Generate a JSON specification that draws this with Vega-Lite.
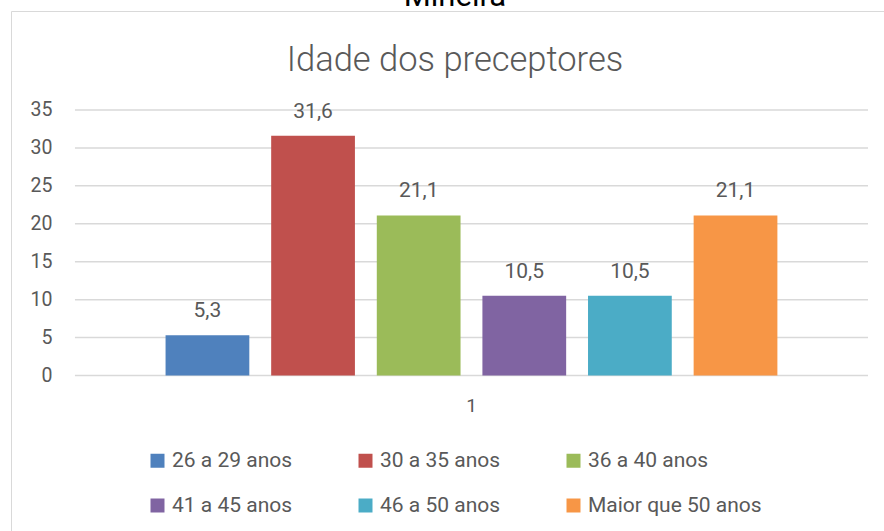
{
  "$schema": "https://vega.github.io/schema/vega-lite/v6.json",
  "width": 883,
  "height": 530,
  "autosize": {"type": "none"},
  "padding": {"left": 11, "top": 11, "right": -10, "bottom": -10},
  "background": "white",
  "title": {
    "text": "Mineira",
    "subtitle": "Idade dos preceptores",
    "anchor": "middle",
    "frame": "group",
    "offset": -67,
    "dx": 2.5,
    "font": "Roboto",
    "fontSize": 31,
    "fontWeight": "normal",
    "color": "#000000",
    "subtitleFont": "Roboto",
    "subtitleFontSize": 34.5,
    "subtitleFontWeight": 300,
    "subtitleColor": "#595959",
    "subtitlePadding": 31
  },
  "datasets": {
    "barras": [
      {"cat": "1", "faixa": "26 a 29 anos", "pct": 5.3},
      {"cat": "1", "faixa": "30 a 35 anos", "pct": 31.6},
      {"cat": "1", "faixa": "36 a 40 anos", "pct": 21.1},
      {"cat": "1", "faixa": "41 a 45 anos", "pct": 10.5},
      {"cat": "1", "faixa": "46 a 50 anos", "pct": 10.5},
      {"cat": "1", "faixa": "Maior que 50 anos", "pct": 21.1}
    ],
    "grade": [
      {"cat": "1", "pct": 0},
      {"cat": "1", "pct": 5},
      {"cat": "1", "pct": 10},
      {"cat": "1", "pct": 15},
      {"cat": "1", "pct": 20},
      {"cat": "1", "pct": 25},
      {"cat": "1", "pct": 30},
      {"cat": "1", "pct": 35}
    ]
  },
  "encoding": {
    "x": {
      "field": "cat",
      "type": "nominal",
      "scale": {"paddingInner": 0, "paddingOuter": 0.0567, "align": 0.711},
      "axis": {
        "orient": "bottom",
        "offset": -165.5,
        "domain": false,
        "ticks": false,
        "labelPadding": 21,
        "labelAngle": 0,
        "labelFont": "Roboto",
        "labelFontSize": 19,
        "labelColor": "#595959",
        "title": null
      }
    },
    "y": {
      "field": "pct",
      "type": "quantitative",
      "stack": null,
      "scale": {"domain": [-21.82, 48.05], "nice": false, "zero": false},
      "axis": {
        "orient": "left",
        "values": [0, 5, 10, 15, 20, 25, 30, 35],
        "offset": -64,
        "domain": false,
        "ticks": false,
        "grid": false,
        "labelPadding": 23,
        "labelFont": "Roboto",
        "labelFontSize": 19.5,
        "labelColor": "#595959",
        "title": null
      }
    }
  },
  "layer": [
    {
      "data": {"name": "grade"},
      "mark": {"type": "rect", "fill": null, "stroke": "#D9D9D9", "strokeWidth": 1.5},
      "encoding": {
        "y2": {"field": "pct"}
      }
    },
    {
      "data": {"name": "barras"},
      "mark": {"type": "bar"},
      "encoding": {
        "xOffset": {
          "field": "faixa",
          "type": "nominal",
          "scale": {"paddingInner": 0.207, "paddingOuter": 0.858}
        },
        "color": {
          "field": "faixa",
          "type": "nominal",
          "scale": {
            "domain": ["26 a 29 anos", "30 a 35 anos", "36 a 40 anos", "41 a 45 anos", "46 a 50 anos", "Maior que 50 anos"],
            "range": ["#4F81BD", "#C0504D", "#9BBB59", "#8064A2", "#4BACC6", "#F79646"]
          },
          "legend": {
            "orient": "none",
            "legendX": 136,
            "legendY": 439,
            "direction": "horizontal",
            "columns": 3,
            "columnPadding": 62,
            "rowPadding": 23,
            "padding": 0,
            "symbolType": "square",
            "symbolSize": 196,
            "symbolStrokeWidth": 0,
            "symbolOpacity": 1,
            "labelOffset": 4,
            "labelFont": "Roboto",
            "labelFontSize": 21,
            "labelColor": "#595959",
            "labelLimit": 300,
            "title": null
          }
        }
      }
    },
    {
      "data": {"name": "barras"},
      "mark": {"type": "text", "dy": -18, "baseline": "alphabetic", "font": "Roboto", "fontSize": 21, "color": "#595959"},
      "encoding": {
        "xOffset": {
          "field": "faixa",
          "type": "nominal",
          "scale": {"paddingInner": 0.207, "paddingOuter": 0.858}
        },
        "text": {"field": "pct", "type": "quantitative", "format": ".1f"}
      }
    }
  ],
  "config": {
    "view": {"stroke": "#D9D9D9", "strokeWidth": 1},
    "locale": {"number": {"decimal": ",", "thousands": ".", "grouping": [3], "currency": ["R$", ""]}},
    "font": "Roboto"
  }
}
